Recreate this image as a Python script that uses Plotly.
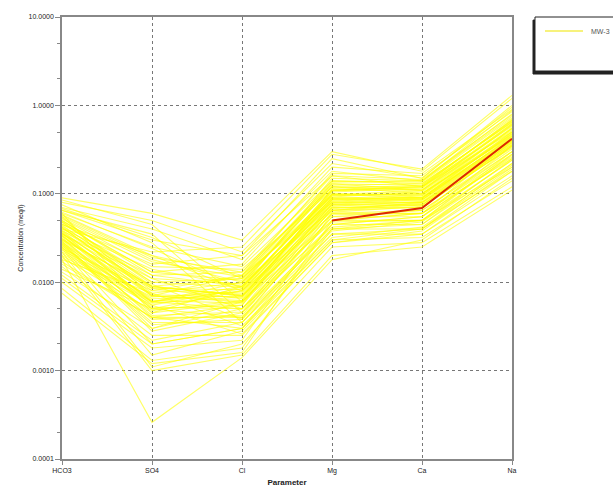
import plotly.graph_objects as go

categories = ["HCO3", "SO4", "Cl", "Mg", "Ca", "Na"]

hco3 = [0.090, 0.080, 0.070, 0.065, 0.060, 0.058, 0.055, 0.052, 0.050, 0.048,
        0.045, 0.044, 0.042, 0.040, 0.038, 0.036, 0.035, 0.034, 0.032, 0.030,
        0.029, 0.028, 0.027, 0.026, 0.025, 0.024, 0.022, 0.020, 0.018, 0.016,
        0.015, 0.014, 0.013, 0.012, 0.011, 0.010, 0.0085, 0.0075, 0.060, 0.055,
        0.050, 0.045, 0.040, 0.038, 0.035, 0.033, 0.031, 0.030, 0.028, 0.026,
        0.024, 0.022, 0.020, 0.018, 0.065, 0.075, 0.085, 0.048, 0.042, 0.036,
        0.046, 0.041, 0.037, 0.034, 0.031, 0.029, 0.027, 0.025, 0.023, 0.021,
        0.019, 0.017, 0.053, 0.057, 0.049, 0.043, 0.039, 0.033, 0.062, 0.068]
so4 = [0.060, 0.050, 0.040, 0.030, 0.025, 0.020, 0.018, 0.015, 0.012, 0.010,
       0.020, 0.009, 0.008, 0.014, 0.007, 0.006, 0.011, 0.005, 0.004, 0.009,
       0.003, 0.0028, 0.006, 0.0035, 0.002, 0.0015, 0.0011, 0.0010, 0.00026, 0.004,
       0.0025, 0.005, 0.003, 0.0022, 0.002, 0.0018, 0.0013, 0.0012, 0.0045, 0.007,
       0.013, 0.016, 0.022, 0.012, 0.009, 0.006, 0.0085, 0.005, 0.0065, 0.0045,
       0.008, 0.006, 0.0055, 0.0075, 0.035, 0.028, 0.045, 0.0095, 0.0075, 0.0055,
       0.011, 0.0085, 0.0072, 0.0062, 0.0052, 0.0042, 0.0038, 0.0033, 0.0068, 0.0058,
       0.0048, 0.0040, 0.017, 0.019, 0.013, 0.010, 0.0088, 0.0070, 0.024, 0.032]
cl = [0.030, 0.022, 0.018, 0.020, 0.015, 0.012, 0.010, 0.014, 0.009, 0.011,
      0.008, 0.007, 0.012, 0.009, 0.006, 0.010, 0.005, 0.008, 0.004, 0.007,
      0.006, 0.0045, 0.005, 0.0035, 0.003, 0.0028, 0.002, 0.0015, 0.0014, 0.003,
      0.0025, 0.004, 0.005, 0.0035, 0.003, 0.0022, 0.0018, 0.0016, 0.009, 0.012,
      0.016, 0.020, 0.025, 0.013, 0.011, 0.008, 0.0065, 0.0055, 0.007, 0.006,
      0.0075, 0.009, 0.0085, 0.010, 0.0045, 0.0035, 0.006, 0.0038, 0.0032, 0.0026,
      0.0095, 0.0082, 0.0068, 0.0058, 0.0050, 0.0046, 0.0042, 0.0038, 0.0078, 0.0068,
      0.0062, 0.0055, 0.0115, 0.013, 0.0105, 0.0088, 0.0072, 0.0062, 0.0085, 0.011]
mg = [0.30, 0.22, 0.18, 0.16, 0.14, 0.13, 0.12, 0.11, 0.10, 0.095,
      0.09, 0.085, 0.08, 0.075, 0.07, 0.065, 0.06, 0.058, 0.055, 0.05,
      0.048, 0.045, 0.042, 0.04, 0.035, 0.03, 0.025, 0.02, 0.018, 0.03,
      0.028, 0.04, 0.05, 0.035, 0.045, 0.06, 0.04, 0.05, 0.15, 0.17,
      0.20, 0.25, 0.28, 0.12, 0.10, 0.09, 0.085, 0.075, 0.07, 0.065,
      0.08, 0.095, 0.11, 0.12, 0.055, 0.045, 0.065, 0.038, 0.032, 0.028,
      0.13, 0.105, 0.092, 0.082, 0.078, 0.072, 0.068, 0.062, 0.088, 0.098,
      0.108, 0.115, 0.14, 0.16, 0.125, 0.098, 0.086, 0.076, 0.11, 0.135]
ca = [0.18, 0.15, 0.14, 0.12, 0.13, 0.11, 0.10, 0.12, 0.09, 0.10,
      0.085, 0.09, 0.08, 0.075, 0.07, 0.08, 0.065, 0.06, 0.055, 0.06,
      0.05, 0.045, 0.05, 0.04, 0.035, 0.032, 0.028, 0.025, 0.03, 0.04,
      0.035, 0.045, 0.05, 0.04, 0.055, 0.06, 0.05, 0.06, 0.14, 0.16,
      0.17, 0.15, 0.19, 0.11, 0.095, 0.09, 0.085, 0.08, 0.075, 0.07,
      0.09, 0.10, 0.11, 0.12, 0.065, 0.055, 0.075, 0.048, 0.042, 0.038,
      0.125, 0.115, 0.105, 0.095, 0.088, 0.082, 0.078, 0.072, 0.098, 0.108,
      0.118, 0.125, 0.135, 0.145, 0.13, 0.10, 0.092, 0.086, 0.12, 0.14]
na = [1.20, 0.95, 0.80, 0.70, 0.65, 0.60, 0.55, 0.50, 0.48, 0.45,
      0.42, 0.40, 0.38, 0.36, 0.35, 0.33, 0.30, 0.28, 0.26, 0.25,
      0.24, 0.22, 0.20, 0.18, 0.16, 0.14, 0.12, 0.11, 0.15, 0.20,
      0.18, 0.25, 0.30, 0.22, 0.35, 0.40, 0.28, 0.30, 0.75, 0.85,
      0.90, 1.00, 1.30, 0.62, 0.55, 0.50, 0.45, 0.40, 0.38, 0.35,
      0.42, 0.48, 0.52, 0.58, 0.32, 0.27, 0.36, 0.24, 0.21, 0.19,
      0.68, 0.60, 0.54, 0.47, 0.44, 0.41, 0.37, 0.34, 0.50, 0.56,
      0.62, 0.66, 0.72, 0.78, 0.64, 0.46, 0.43, 0.39, 0.68, 0.88]

highlight = [None, None, None, 0.050, 0.069, 0.42]

y_ticks = [0.0001, 0.001, 0.01, 0.1, 1, 10]
y_ticktext = ["0.0001", "0.0010", "0.0100", "0.1000", "1.0000", "10.0000"]

legend_name = "MW-3"

xpos = list(range(len(categories)))

fig = go.Figure()
for i in range(len(hco3)):
    fig.add_trace(go.Scatter(
        x=xpos, y=[hco3[i], so4[i], cl[i], mg[i], ca[i], na[i]],
        mode="lines", line=dict(color="rgba(255,255,0,0.6)", width=1.1),
        name=legend_name, showlegend=False, hoverinfo="skip"))

fig.add_trace(go.Scatter(
    x=xpos, y=highlight, mode="lines",
    line=dict(color="#DD2A00", width=2), showlegend=False, hoverinfo="skip"))

font = "Liberation Sans, Arial, sans-serif"

fig.update_layout(
    width=613, height=487,
    margin=dict(l=62, r=101, t=17, b=28),
    paper_bgcolor="white", plot_bgcolor="white",
    font=dict(family=font, size=7, color="#222"),
    showlegend=False,
    xaxis=dict(range=[0, 5], tickvals=xpos, ticktext=categories,
               showgrid=True, griddash="dot", gridcolor="#777", gridwidth=1,
               showline=True, linecolor="#888", linewidth=1.5, mirror=True,
               ticks="outside", ticklen=4, tickcolor="#888",
               zeroline=False, automargin=False,
               title=dict(text="<b>Parameter</b>", font=dict(size=8), standoff=5)),
    yaxis=dict(type="log", range=[-4, 1], tickvals=y_ticks, ticktext=y_ticktext,
               showgrid=True, griddash="dot", gridcolor="#777", gridwidth=1,
               showline=True, linecolor="#888", linewidth=1.5, mirror=True,
               ticks="outside", ticklen=5, tickcolor="#888",
               minor=dict(ticks="outside", ticklen=3, tickcolor="#888", showgrid=False),
               zeroline=False, automargin=False,
               title=dict(text="Concentration (meq/l)", font=dict(size=7), standoff=4)),
    shapes=[
        dict(type="rect", xref="paper", yref="paper",
             x0=1.0467, x1=1.24, y0=0.871, y1=0.993,
             line=dict(color="#222", width=1), fillcolor="#222", layer="above"),
        dict(type="rect", xref="paper", yref="paper",
             x0=1.0511, x1=1.24, y0=0.8778, y1=1.0,
             line=dict(color="#222", width=1), fillcolor="white", layer="above"),
        dict(type="line", xref="paper", yref="paper",
             x0=1.0733, x1=1.1578, y0=0.9683, y1=0.9683,
             line=dict(color="#F4EE50", width=1.5), layer="above"),
    ],
    annotations=[
        dict(text=legend_name, xref="paper", yref="paper", x=1.172, y=0.9683,
             xanchor="left", yanchor="middle", showarrow=False,
             font=dict(size=7, color="#555")),
    ],
)

fig.write_html("out.html", config={"displayModeBar": False},
               post_script="document.body.style.margin='0';document.body.style.overflow='hidden';")
